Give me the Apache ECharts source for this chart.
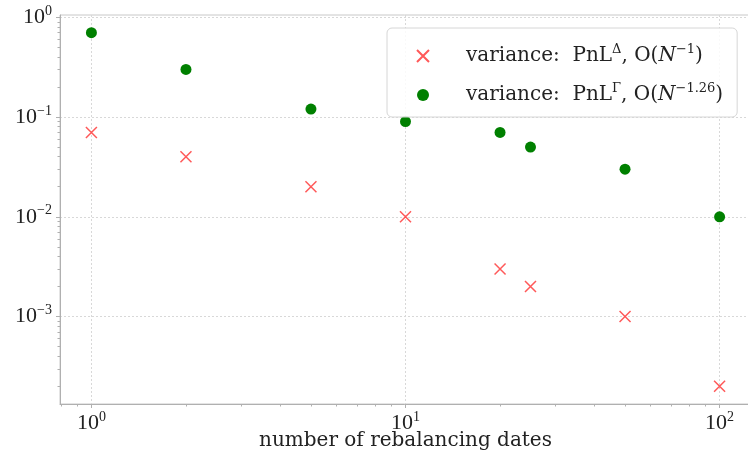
<!DOCTYPE html>
<html><head><meta charset="utf-8">
<script src="https://cdn.jsdelivr.net/npm/echarts@6/dist/echarts.min.js"></script>
<style>html,body{margin:0;padding:0;background:#fff}#c{width:748px;height:457px}</style>
</head><body><div id="c"></div>
<script>
// ---- data ----
const rebalancingDates = [1, 2, 5, 10, 20, 25, 50, 100];
const varianceDelta = [0.07, 0.04, 0.02, 0.01, 0.003, 0.002, 0.001, 0.0002];
const varianceGamma = [0.7, 0.3, 0.12, 0.09, 0.07, 0.05, 0.03, 0.01];
const xMajorTicks = [1, 10, 100];
const xMinorTicks = [0.8, 0.9, 2, 3, 4, 5, 6, 7, 8, 9, 20, 30, 40, 50, 60, 70, 80, 90];
const yMajorTicks = [0.001, 0.01, 0.1, 1];
const yMinorTicks = [2e-4, 3e-4, 4e-4, 5e-4, 6e-4, 7e-4, 8e-4, 9e-4,
  2e-3, 3e-3, 4e-3, 5e-3, 6e-3, 7e-3, 8e-3, 9e-3,
  0.02, 0.03, 0.04, 0.05, 0.06, 0.07, 0.08, 0.09,
  0.2, 0.3, 0.4, 0.5, 0.6, 0.7, 0.8, 0.9];
const seriesNames = ['delta', 'gamma'];
const legendTexts = [
  '{t|variance:  PnL}{s|Δ}{t|, O(}{i|N}{s|−1}{t|)}',
  '{t|variance:  PnL}{s|Γ}{t|, O(}{i|N}{s|−1.26}{t|)}'
];
const xTitle = 'number of rebalancing dates';

const FONT = '"Liberation Serif", "DejaVu Serif", serif';
const TFONT = '"DejaVu Serif", "Liberation Serif", serif';
const xRange = [Math.pow(10, -0.1), Math.pow(10, 2.1)];
const yRange = [Math.pow(10, -3.876), Math.pow(10, 0.022)];

function powLabel(v) {
  const l = Math.log10(v);
  const e = Math.round(l);
  if (Math.abs(l - e) > 1e-6) return '';
  return '{b|10}{s|' + (e < 0 ? '−' + (-e) : e) + '}';
}
const labelRich = {
  b: { fontFamily: FONT, fontSize: 22, color: '#222' },
  s: { fontFamily: FONT, fontSize: 14, color: '#222', padding: [0, 0, 12, 0] }
};
const gridLine = { show: true, lineStyle: { color: '#d8d8d8', type: [2, 2], width: 1 } };
const axisCol = '#b0b0b0';

const chart = echarts.init(document.getElementById('c'), null, { renderer: 'canvas' });
chart.setOption({
  backgroundColor: '#fff',
  animation: false,
  grid: { left: 60, right: -3, top: 15, bottom: 53, outerBoundsMode: 'none', containLabel: false,
    show: true, borderColor: '#c8c8c8', borderWidth: 1, backgroundColor: 'transparent' },
  xAxis: [{
    type: 'log', min: xRange[0], max: xRange[1], position: 'bottom',
    axisLine: { lineStyle: { color: axisCol, width: 1 } },
    axisTick: { show: true, length: 4, customValues: xMajorTicks, lineStyle: { color: axisCol } },
    axisLabel: { customValues: xMajorTicks, formatter: powLabel, rich: labelRich, margin: 6 },
    splitLine: gridLine,
    name: xTitle, nameLocation: 'middle', nameGap: 27, nameMoveOverlap: false,
    nameTextStyle: { fontFamily: TFONT, fontSize: 20, color: '#222' }
  }, {
    type: 'log', min: xRange[0], max: xRange[1], position: 'bottom', gridIndex: 0,
    axisLine: { show: false },
    axisTick: { show: true, length: 2.5, customValues: xMinorTicks, lineStyle: { color: axisCol } },
    axisLabel: { show: false },
    splitLine: { show: false }
  }],
  yAxis: [{
    type: 'log', min: yRange[0], max: yRange[1], position: 'left',
    axisLine: { lineStyle: { color: axisCol, width: 1 } },
    axisTick: { show: true, length: 4, customValues: yMajorTicks, lineStyle: { color: axisCol } },
    axisLabel: { customValues: yMajorTicks, formatter: powLabel, rich: labelRich, margin: 8 },
    splitLine: gridLine
  }, {
    type: 'log', min: yRange[0], max: yRange[1], position: 'left', gridIndex: 0,
    axisLine: { show: false },
    axisTick: { show: true, length: 2.5, customValues: yMinorTicks, lineStyle: { color: axisCol } },
    axisLabel: { show: false },
    splitLine: { show: false }
  }],
  legend: {
    orient: 'vertical', left: 387, top: 28,
    padding: [15, 14, 12, 29],
    itemGap: 16, itemWidth: 12, itemHeight: 12,
    backgroundColor: 'rgba(255,255,255,0.85)',
    borderColor: '#d6d6d6', borderWidth: 1, borderRadius: 5,
    data: seriesNames,
    formatter: function (name) { return '{pad|}' + legendTexts[seriesNames.indexOf(name)]; },
    textStyle: {
      fontFamily: TFONT, fontSize: 20, color: '#222',
      rich: {
        pad: { width: 32 },
        t: { fontFamily: TFONT, fontSize: 20, color: '#222', lineHeight: 26 },
        i: { fontFamily: TFONT, fontSize: 20, color: '#222', fontStyle: 'italic', lineHeight: 26 },
        s: { fontFamily: TFONT, fontSize: 13, color: '#222', padding: [0, 0, 13, 0] }
      }
    }
  },
  series: [{
    name: seriesNames[0], type: 'scatter', xAxisIndex: 0, yAxisIndex: 0,
    data: rebalancingDates.map((x, i) => [x, varianceDelta[i]]),
    symbol: 'path://M0,0L10,10M10,0L0,10', symbolSize: 11,
    itemStyle: { color: 'rgba(0,0,0,0)', borderColor: 'rgba(255,60,60,0.85)', borderWidth: 1.5, opacity: 1 },
    z: 3
  }, {
    name: seriesNames[1], type: 'scatter', xAxisIndex: 0, yAxisIndex: 0,
    data: rebalancingDates.map((x, i) => [x, varianceGamma[i]]),
    symbol: 'circle', symbolSize: 11,
    itemStyle: { color: '#008000', opacity: 1 },
    z: 3
  }]
});
</script>
</body></html>
